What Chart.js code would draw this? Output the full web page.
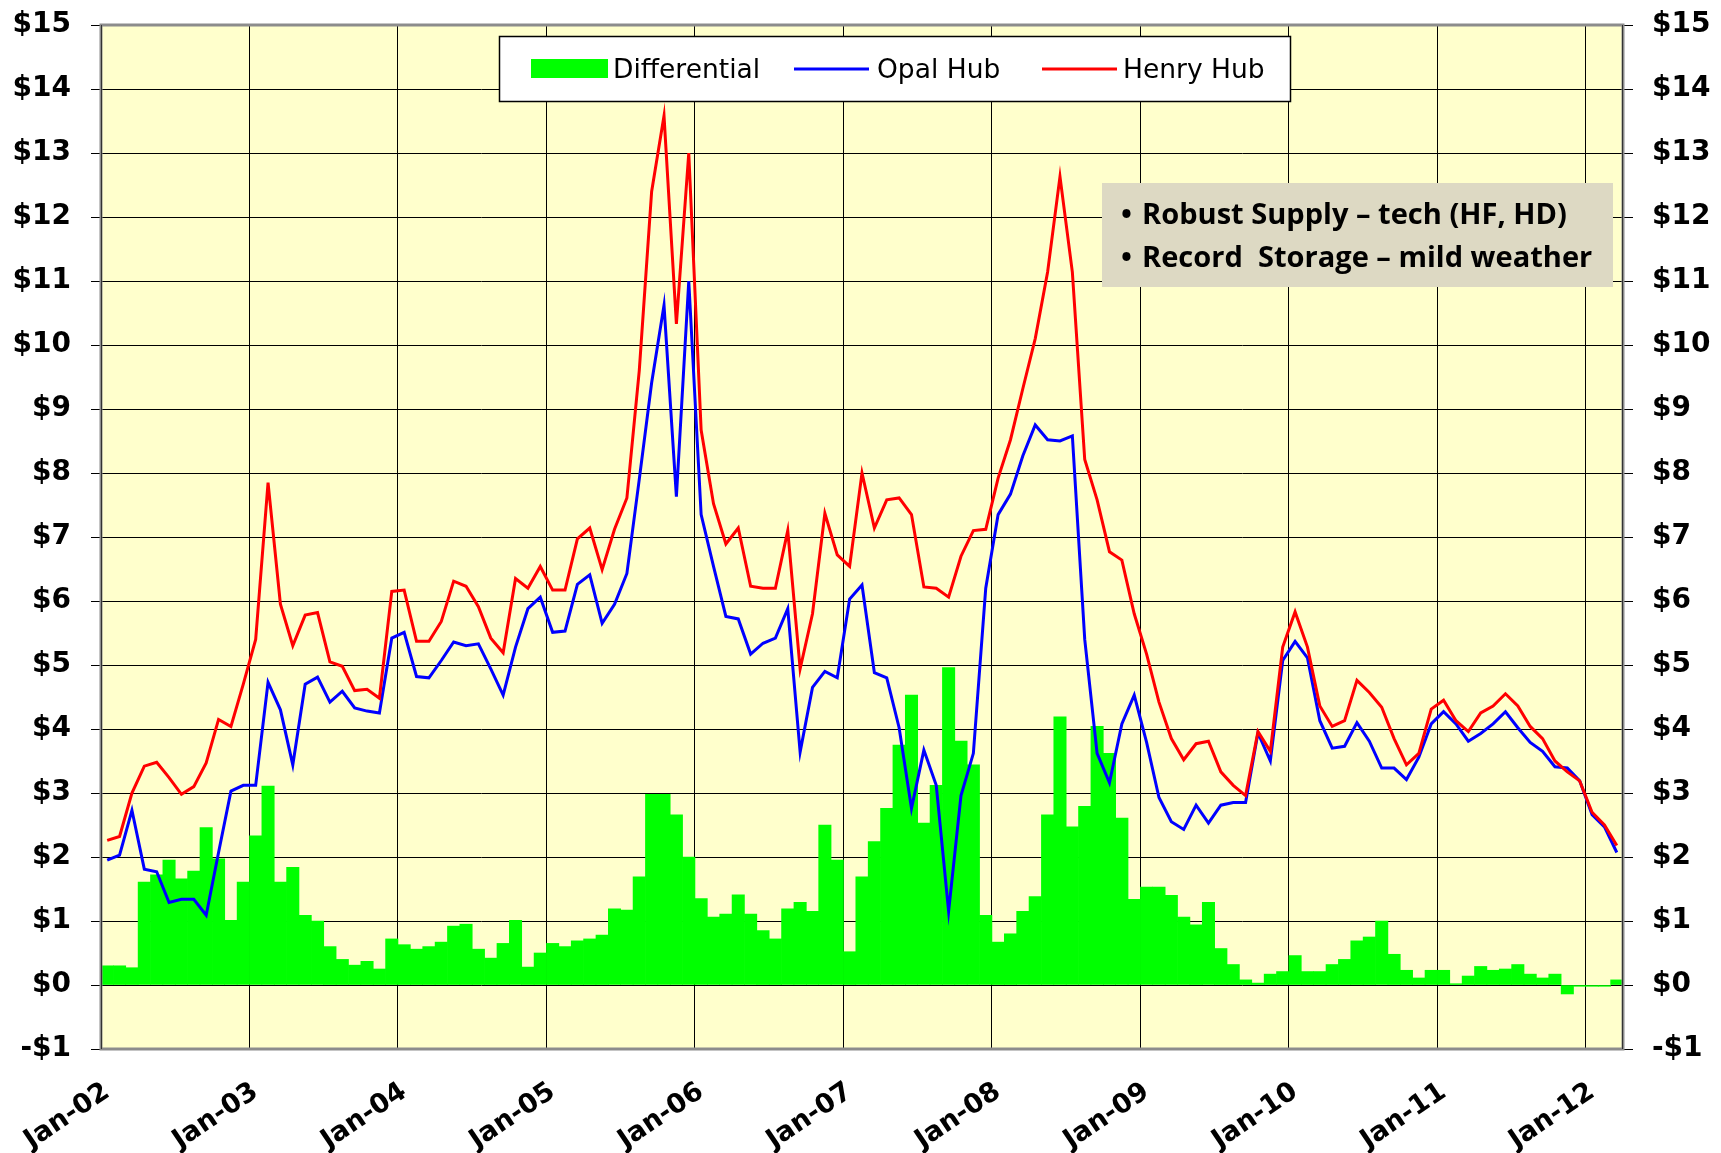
<!DOCTYPE html>
<html>
<head>
<meta charset="utf-8">
<title>Opal Hub vs Henry Hub</title>
<script src="https://cdn.jsdelivr.net/npm/chart.js@4.4.1/dist/chart.umd.min.js"></script>
<style>
  html, body { margin: 0; padding: 0; background: #ffffff; }
  #wrap { width: 1721px; height: 1153px; }
</style>
</head>
<body>
<div id="wrap"><canvas id="priceChart" width="1721" height="1153"></canvas></div>
<script>
// monthly prices, $/MMBtu, Jan-02 .. Mar-12
const monthNames = ['Jan', 'Feb', 'Mar', 'Apr', 'May', 'Jun', 'Jul', 'Aug', 'Sep', 'Oct', 'Nov', 'Dec'];
const years = ['02', '03', '04', '05', '06', '07', '08', '09', '10', '11', '12'];

const henryHub = [
  2.26, 2.32, 3.00, 3.42, 3.48, 3.24, 2.98, 3.10, 3.47, 4.15, 4.04, 4.70,
  5.40, 7.85, 5.95, 5.30, 5.78, 5.82, 5.05, 4.98, 4.60, 4.62, 4.48, 6.15,
  6.17, 5.37, 5.37, 5.68, 6.31, 6.23, 5.91, 5.42, 5.19, 6.35, 6.20, 6.54,
  6.17, 6.17, 6.97, 7.14, 6.49, 7.12, 7.61, 9.60, 12.40, 13.58, 10.33, 13.00,
  8.67, 7.52, 6.89, 7.14, 6.23, 6.20, 6.20, 7.10, 4.94, 5.80, 7.37, 6.72,
  6.54, 8.00, 7.14, 7.58, 7.61, 7.35, 6.22, 6.20, 6.06, 6.70, 7.10, 7.12,
  7.92, 8.52, 9.32, 10.10, 11.14, 12.63, 11.14, 8.21, 7.58, 6.77, 6.64, 5.80,
  5.17, 4.42, 3.85, 3.52, 3.77, 3.81, 3.33, 3.12, 2.96, 3.96, 3.65, 5.28,
  5.83, 5.28, 4.36, 4.04, 4.13, 4.76, 4.57, 4.34, 3.85, 3.44, 3.62, 4.31,
  4.45, 4.13, 3.96, 4.25, 4.36, 4.55, 4.36, 4.04, 3.85, 3.50, 3.33, 3.19,
  2.70, 2.50, 2.18
];

const opalHub = [
  1.95, 2.03, 2.73, 1.81, 1.77, 1.29, 1.34, 1.34, 1.09, 2.07, 3.03, 3.12,
  3.12, 4.73, 4.30, 3.44, 4.70, 4.81, 4.42, 4.59, 4.33, 4.28, 4.25, 5.42,
  5.51, 4.82, 4.80, 5.07, 5.36, 5.30, 5.33, 4.94, 4.53, 5.28, 5.88, 6.06,
  5.51, 5.53, 6.26, 6.41, 5.65, 5.95, 6.43, 7.90, 9.41, 10.62, 7.63, 11.00,
  7.35, 6.54, 5.76, 5.72, 5.17, 5.34, 5.42, 5.88, 3.64, 4.65, 4.90, 4.80,
  6.03, 6.25, 4.88, 4.80, 4.02, 2.76, 3.67, 3.12, 1.15, 2.96, 3.62, 6.20,
  7.35, 7.67, 8.27, 8.75, 8.52, 8.50, 8.58, 5.40, 3.62, 3.16, 4.08, 4.53,
  3.79, 2.93, 2.55, 2.43, 2.81, 2.53, 2.81, 2.85, 2.85, 3.94, 3.50, 5.07,
  5.37, 5.11, 4.13, 3.70, 3.73, 4.10, 3.81, 3.39, 3.39, 3.21, 3.56, 4.08,
  4.27, 4.08, 3.81, 3.93, 4.08, 4.27, 4.02, 3.79, 3.65, 3.41, 3.39, 3.19,
  2.66, 2.47, 2.07
];

const differential = [
  0.30, 0.30, 0.27, 1.61, 1.72, 1.95, 1.66, 1.78, 2.46, 1.97, 1.01, 1.61,
  2.33, 3.11, 1.61, 1.84, 1.09, 1.00, 0.60, 0.40, 0.31, 0.37, 0.25, 0.72,
  0.63, 0.56, 0.60, 0.67, 0.92, 0.95, 0.56, 0.42, 0.65, 1.01, 0.28, 0.50,
  0.65, 0.60, 0.69, 0.72, 0.78, 1.19, 1.17, 1.69, 2.98, 2.98, 2.66, 2.00,
  1.35, 1.06, 1.11, 1.41, 1.11, 0.85, 0.72, 1.19, 1.29, 1.15, 2.50, 1.95,
  0.52, 1.69, 2.24, 2.76, 3.75, 4.53, 2.53, 3.12, 4.96, 3.81, 3.44, 1.09,
  0.67, 0.80, 1.15, 1.38, 2.66, 4.19, 2.47, 2.79, 4.04, 3.62, 2.61, 1.34,
  1.53, 1.53, 1.40, 1.06, 0.94, 1.29, 0.57, 0.32, 0.08, 0.03, 0.17, 0.21,
  0.46, 0.21, 0.21, 0.32, 0.40, 0.69, 0.75, 1.00, 0.48, 0.23, 0.11, 0.23,
  0.23, 0.02, 0.14, 0.29, 0.23, 0.25, 0.32, 0.17, 0.11, 0.17, -0.14, -0.02,
  -0.02, -0.02, 0.08
];

const yTickLabels = ['-$1', '$0', '$1', '$2', '$3', '$4', '$5', '$6', '$7', '$8',
  '$9', '$10', '$11', '$12', '$13', '$14', '$15'];

const noteLines = ['Robust Supply \u2013 tech (HF, HD)', 'Record  Storage \u2013 mild weather'];

// category labels "Mon-YY", one per data point
const allMonths = [];
for (const y of years) {
  for (const m of monthNames) allMonths.push(m + '-' + y);
}
const labels = allMonths.slice(0, henryHub.length);

const TICK_FONT = { family: 'DejaVu Sans', size: 28, weight: 'bold' };
const X_FONT = { family: 'DejaVu Sans', size: 27, weight: 'bold' };

const isJanuary = (i) => typeof labels[i] === 'string' && labels[i].startsWith('Jan');

// keep the plot box fixed: no extra room reserved for overhanging tick labels
const fixWidth = (w) => (s) => { s.width = w; s.paddingTop = 0; s.paddingBottom = 0; };

// yellow plot background, grey frame, legend box and the note panel
const chartDecor = {
  id: 'chartDecor',
  beforeDraw(chart) {
    const { ctx, chartArea: a } = chart;
    ctx.save();
    ctx.fillStyle = '#FFFFCC';
    ctx.fillRect(a.left, a.top, a.right - a.left, a.bottom - a.top);
    ctx.restore();
  },
  afterDatasetsDraw(chart) {
    const { ctx, chartArea: a } = chart;
    ctx.save();
    ctx.strokeStyle = '#8c8c8c';
    ctx.lineWidth = 3;
    ctx.strokeRect(a.left, a.top, a.right - a.left, a.bottom - a.top);
    ctx.strokeStyle = '#333333';
    ctx.lineWidth = 1;
    ctx.beginPath();
    ctx.moveTo(a.left + 0.5, a.top);
    ctx.lineTo(a.left + 0.5, a.bottom);
    ctx.moveTo(a.right - 0.5, a.top);
    ctx.lineTo(a.right - 0.5, a.bottom);
    ctx.stroke();
    ctx.restore();
  },
  afterDraw(chart) {
    const ctx = chart.ctx;
    const ds = chart.data.datasets;
    ctx.save();

    // legend
    ctx.fillStyle = '#ffffff';
    ctx.fillRect(499, 36, 792, 66);
    ctx.strokeStyle = '#000000';
    ctx.lineWidth = 1.5;
    ctx.strokeRect(499.5, 36.5, 791, 65);

    ctx.font = '26.5px "DejaVu Sans"';
    ctx.textBaseline = 'alphabetic';
    ctx.textAlign = 'left';

    const bars = ds.find(d => d.type === 'bar');
    const opal = ds.find(d => d.label === 'Opal Hub');
    const henry = ds.find(d => d.label === 'Henry Hub');

    ctx.fillStyle = bars.backgroundColor;
    ctx.fillRect(531, 59, 77, 19);
    ctx.fillStyle = '#000000';
    ctx.fillText(bars.label, 613, 78);

    ctx.lineWidth = 3;
    ctx.strokeStyle = opal.borderColor;
    ctx.beginPath(); ctx.moveTo(794, 69); ctx.lineTo(869, 69); ctx.stroke();
    ctx.fillText(opal.label, 877, 78);

    ctx.strokeStyle = henry.borderColor;
    ctx.beginPath(); ctx.moveTo(1042, 69); ctx.lineTo(1117, 69); ctx.stroke();
    ctx.fillText(henry.label, 1123, 78);

    // note panel
    ctx.fillStyle = '#DDD9C3';
    ctx.fillRect(1102, 183, 511, 104);
    ctx.font = 'bold 100px "Open Sans"';
    const w100 = ctx.measureText(noteLines[0]).width;
    const size = 100 * 425 / w100;
    ctx.font = 'bold ' + size.toFixed(2) + 'px "Open Sans"';
    ctx.fillStyle = '#000000';
    const baselines = [224, 267];
    noteLines.forEach((line, i) => {
      ctx.fillText('\u2022', 1121, baselines[i]);
      ctx.fillText(line, 1142, baselines[i]);
    });

    ctx.restore();
  }
};

const chart = new Chart(document.getElementById('priceChart'), {
  type: 'bar',
  data: {
    labels,
    datasets: [
      {
        type: 'line',
        label: 'Henry Hub',
        data: henryHub,
        borderColor: '#FF0000',
        borderWidth: 3,
        pointRadius: 0,
        tension: 0,
        yAxisID: 'y',
        order: 0
      },
      {
        type: 'line',
        label: 'Opal Hub',
        data: opalHub,
        borderColor: '#0000FF',
        borderWidth: 3,
        pointRadius: 0,
        tension: 0,
        yAxisID: 'y',
        order: 1
      },
      {
        type: 'bar',
        label: 'Differential',
        data: differential,
        backgroundColor: '#00FF00',
        borderWidth: 0,
        barPercentage: 1.0,
        categoryPercentage: 1.0,
        yAxisID: 'y',
        order: 2
      }
    ]
  },
  options: {
    responsive: false,
    animation: false,
    layout: { padding: { top: 25, left: 0, right: 0, bottom: 0 } },
    plugins: {
      legend: { display: false },
      tooltip: { enabled: false }
    },
    scales: {
      x: {
        offset: true,
        grid: {
          offset: true,
          drawTicks: false,
          lineWidth: 1,
          color: (c) => (c.tick && isJanuary(c.tick.value)) ? '#000000' : 'rgba(0,0,0,0)'
        },
        border: { display: false },
        ticks: {
          autoSkip: false,
          minRotation: 34,
          maxRotation: 34,
          padding: 27,
          color: '#000000',
          font: X_FONT,
          callback: (v, i) => isJanuary(i) ? labels[i] : ''
        },
        afterFit: (s) => { s.height = 104; s.paddingLeft = 0; s.paddingRight = 0; }
      },
      y: {
        position: 'left',
        min: -1,
        max: 15,
        grid: { color: '#000000', lineWidth: 1, tickLength: 10 },
        border: { display: false },
        ticks: {
          stepSize: 1,
          padding: 20,
          color: '#000000',
          font: TICK_FONT,
          callback: (v, i) => yTickLabels[i]
        },
        afterFit: fixWidth(101)
      },
      y2: {
        position: 'right',
        min: -1,
        max: 15,
        grid: { drawOnChartArea: false, color: '#000000', lineWidth: 1, tickLength: 10 },
        border: { display: false },
        ticks: {
          stepSize: 1,
          padding: 19,
          color: '#000000',
          font: TICK_FONT,
          callback: (v, i) => yTickLabels[i]
        },
        afterFit: fixWidth(98)
      }
    }
  },
  plugins: [chartDecor]
});
</script>
</body>
</html>
